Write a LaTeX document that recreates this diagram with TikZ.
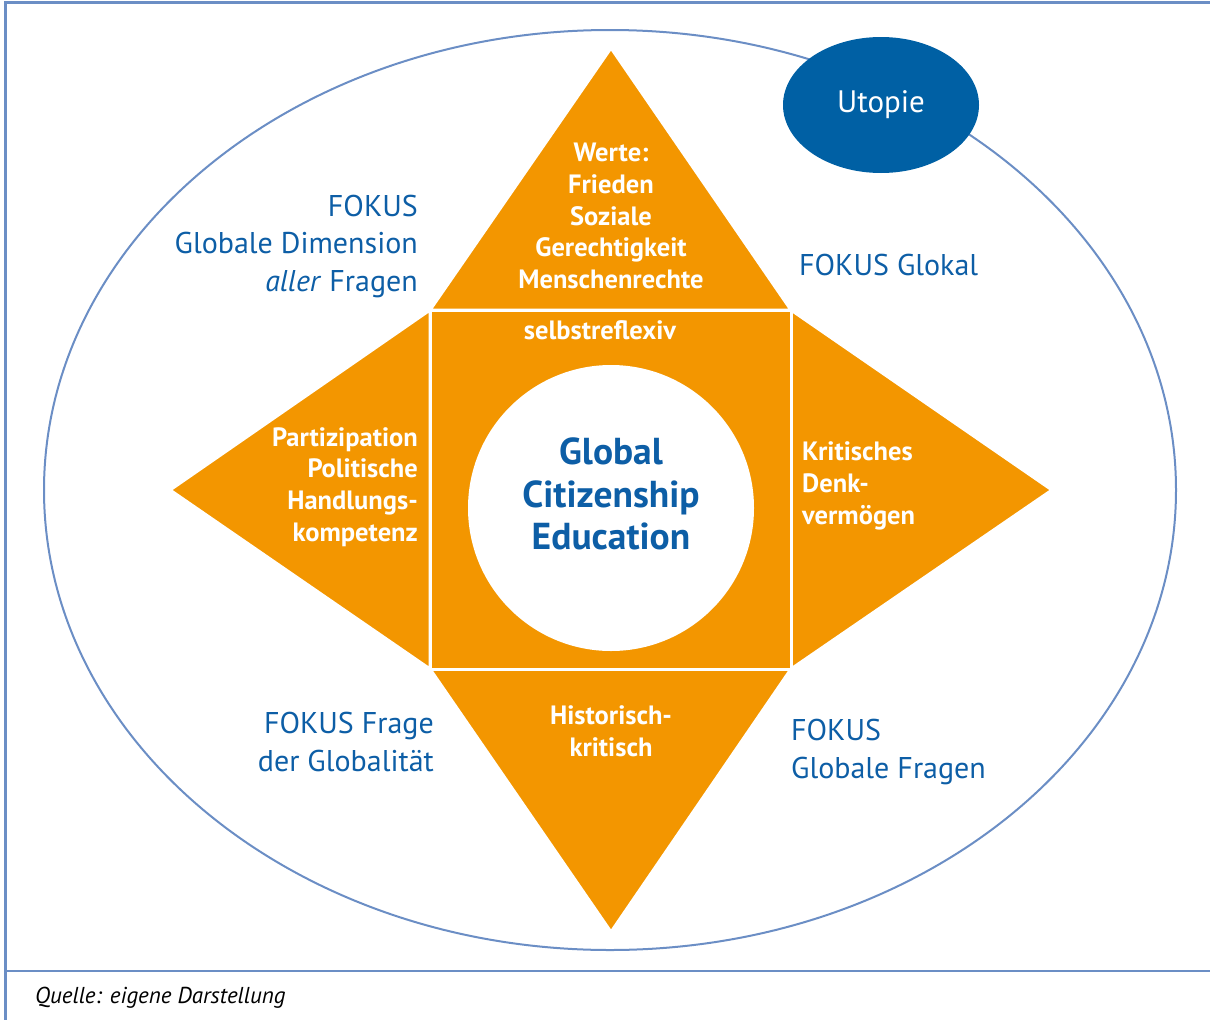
\documentclass[tikz,border=0pt]{standalone}
\usepackage{fontspec}
\setmainfont{PT Sans}
\usepackage{tikz}
\usetikzlibrary{shapes.geometric}

\definecolor{gceorange}{HTML}{F39600}
\definecolor{gceblue}{HTML}{0D5EA6}
\definecolor{framelinie}{HTML}{6B8EC5}
\definecolor{utopieblue}{HTML}{0060A4}

\tikzset{
    feld/.style={fill=gceorange, draw=white, line width=3pt, line join=miter},
    weiss/.style={text=white, font=\fontsize{26.5}{31.8}\selectfont\bfseries, inner sep=0pt},
    fokus/.style={text=gceblue, font=\fontsize{30}{37.5}\selectfont, inner sep=0pt},
}

\begin{document}
\begin{tikzpicture}[x=1pt, y=-1pt]
    \useasboundingbox (0,0) rectangle (1210,1020);
    % frame
    \draw[framelinie, line width=3pt] (1210,2) -- (5,2) -- (5,1020);
    \draw[framelinie, line width=2.5pt] (5,971) -- (1210,971);
    \draw[framelinie, line width=2pt] (610,490) ellipse [x radius=566, y radius=460];

    % star
    \coordinate (nw) at (430,310);
    \coordinate (ne) at (791,310);
    \coordinate (se) at (791,669);
    \coordinate (sw) at (430,669);
    \coordinate (oben) at (611,48);
    \coordinate (unten) at (611,932);
    \coordinate (links) at (170,490);
    \coordinate (rechts) at (1052,490);
    \filldraw[feld] (nw) -- (oben) -- (ne) -- cycle;
    \filldraw[feld] (sw) -- (unten) -- (se) -- cycle;
    \filldraw[feld] (nw) -- (links) -- (sw) -- cycle;
    \filldraw[feld] (ne) -- (rechts) -- (se) -- cycle;
    \filldraw[feld] (nw) rectangle (se);
    \node[circle, fill=white, minimum size=286pt, inner sep=0pt] (kreis) at (611,508) {};

    \node[utopieblue, fill, ellipse, minimum width=196pt, minimum height=136pt, inner sep=0pt] (utopie) at (881,105) {};
    \node[text=white, font=\fontsize{31}{36}\selectfont] at (utopie) {Utopie};

    % texts
    \node[weiss, align=center] (werte) at (611,216) {Werte:\\Frieden\\Soziale\\Gerechtigkeit\\Menschenrechte};
    \node[weiss] (selbst) at (600,330) {selbstreflexiv};
    \node[weiss, align=right, anchor=east] (partizipation) at (418,487) {Partizipation\\Politische\\Handlungs-\\kompetenz};
    \node[weiss, align=left, anchor=west] (kritisch) at (802,486) {Kritisches\\Denk-\\vermögen};
    \node[weiss, align=center] (historisch) at (611,731) {Historisch-\\kritisch};
    \node[text=gceblue, font=\fontsize{37.5}{42.5}\selectfont\bfseries, align=center, inner sep=0pt] (gce) at (611,494) {Global\\Citizenship\\Education};

    \node[fokus, align=right, anchor=east] (dimension) at (418,246) {FOKUS\\Globale Dimension\\\textit{aller} Fragen};
    \node[fokus, anchor=west] (glokal) at (799,265) {FOKUS Glokal};
    \node[fokus, align=right, anchor=east] (globalitaet) at (434,742) {FOKUS Frage\\der Globalität};
    \node[fokus, align=left, anchor=west] (fragen) at (791,752) {FOKUS\\Globale Fragen};

    \node[font=\fontsize{23}{26}\selectfont\itshape, anchor=west, inner sep=0pt] (quelle) at (35,998) {Quelle: eigene Darstellung};
\end{tikzpicture}
\end{document}
